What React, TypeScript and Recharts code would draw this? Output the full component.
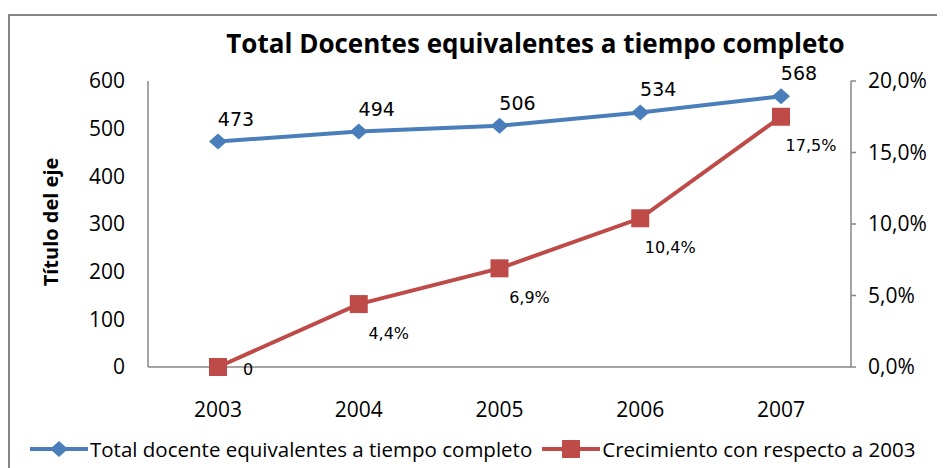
import { LineChart, Line, XAxis, YAxis, LabelList } from 'recharts'

const years = ['2003', '2004', '2005', '2006', '2007']
const totalDocentes = [473, 494, 506, 534, 568]
const crecimiento = [0, 0.044, 0.069, 0.104, 0.175]
const leftTicks = [0, 100, 200, 300, 400, 500, 600]
const rightTicks = [0, 0.05, 0.1, 0.15, 0.2]

const data = years.map((year, i) => ({ year, total: totalDocentes[i], crec: crecimiento[i] }))

const BLUE = '#4a7ebb'
const RED = '#be4b48'
const AXIS = '#868686'
const FONT = '"Open Sans", sans-serif'
const LABEL_FONT = '"DejaVu Sans", sans-serif'

const pct = (v: number) => (v * 100).toFixed(1).replace('.', ',') + '%'

const Diamond = (props: any) => {
  const { cx, cy, index } = props
  if (cx == null || cy == null) return null
  return (
    <polygon
      key={`d-${index}`}
      points={`${cx - 9},${cy} ${cx},${cy - 8} ${cx + 9},${cy} ${cx},${cy + 8}`}
      fill={BLUE}
    />
  )
}

const Square = (props: any) => {
  const { cx, cy, index } = props
  if (cx == null || cy == null) return null
  return <rect key={`s-${index}`} x={cx - 9} y={cy - 9} width={18} height={18} fill={RED} />
}

const blueLabel = (props: any) => {
  const { x, y, value, index } = props
  return (
    <text key={`bl-${index}`} x={x + 18} y={y - 23} textAnchor="middle" dominantBaseline="central"
      fontSize={19} fontFamily={LABEL_FONT} fill="#000">
      {value}
    </text>
  )
}

const redLabel = (props: any) => {
  const { x, y, value, index } = props
  const zero = value === 0
  return (
    <text key={`rl-${index}`} x={x + 30} y={zero ? y + 2 : y + 29} textAnchor="middle" dominantBaseline="central"
      fontSize={16} fontFamily={LABEL_FONT} fill="#000">
      {zero ? '0' : pct(value)}
    </text>
  )
}

const axisTitle = () => (
  <text x={42} y={214} transform="rotate(-90, 42, 214)" textAnchor="middle" dominantBaseline="central"
    fontSize={20} fontWeight="bold" fontFamily={FONT} fill="#000">
    Título del eje
  </text>
)

function LegendItem({ color, shape, text }: { color: string; shape: 'diamond' | 'square'; text: string }) {
  return (
    <div style={{ display: 'flex', alignItems: 'center', marginRight: 10 }}>
      <svg width={58} height={20} style={{ marginRight: 2 }}>
        <line x1={0} y1={10} x2={58} y2={10} stroke={color} strokeWidth={4} />
        {shape === 'diamond'
          ? <polygon points="20,10 29,2 38,10 29,18" fill={color} />
          : <rect x={20} y={1} width={18} height={18} fill={color} />}
      </svg>
      <span>{text}</span>
    </div>
  )
}

export default function App() {
  return (
    <div style={{ position: 'relative', width: 937, height: 460, overflow: 'hidden', background: '#fff' }}>
      <div style={{
        position: 'absolute', left: 0, top: 6, width: 1000, height: 500,
        borderLeft: `2px solid ${AXIS}`, borderTop: `2px solid ${AXIS}`, boxSizing: 'border-box',
      }} />
      <div style={{
        position: 'absolute', left: 0, width: 937, top: 17, textAlign: 'center',
        fontFamily: FONT, fontWeight: 'bold', fontSize: 26, color: '#000', paddingLeft: 118, boxSizing: 'border-box',
        whiteSpace: 'nowrap',
      }}>
        Total Docentes equivalentes a tiempo completo
      </div>
      <LineChart width={937} height={460} data={data} margin={{ top: 73, right: 0, bottom: 61, left: 0 }}
        style={{ position: 'absolute', left: 0, top: 0 }}>
        <XAxis dataKey="year" axisLine={{ stroke: AXIS, strokeWidth: 1.5 }} tickLine={false} tickSize={0}
          tickMargin={35} height={40} padding={{ left: 70, right: 70 }}
          tick={{ fontSize: 21, fontFamily: FONT, fill: '#000' }} />
        <YAxis yAxisId="left" domain={[0, 600]} ticks={leftTicks} width={140}
          axisLine={{ stroke: AXIS, strokeWidth: 1.5 }} tickLine={false} tickSize={0} tickMargin={23}
          tick={{ fontSize: 21, fontFamily: FONT, fill: '#000' }} label={axisTitle} />
        <YAxis yAxisId="right" orientation="right" domain={[0, 0.2]} ticks={rightTicks} width={94}
          tickFormatter={pct} axisLine={{ stroke: AXIS, strokeWidth: 1.5 }}
          tickLine={{ stroke: AXIS, strokeWidth: 1.5 }} tickSize={5} tickMargin={12}
          tick={{ fontSize: 21, fontFamily: FONT, fill: '#000' }} />
        <Line yAxisId="left" dataKey="total" stroke={BLUE} strokeWidth={4} dot={Diamond}
          activeDot={false} isAnimationActive={false}>
          <LabelList dataKey="total" content={blueLabel} />
        </Line>
        <Line yAxisId="right" dataKey="crec" stroke={RED} strokeWidth={4} dot={Square}
          activeDot={false} isAnimationActive={false}>
          <LabelList dataKey="crec" content={redLabel} />
        </Line>
      </LineChart>
      <div style={{
        position: 'absolute', left: 22, top: 427, display: 'flex', alignItems: 'center',
        fontFamily: FONT, fontSize: 20.5, color: '#000', whiteSpace: 'nowrap',
      }}>
        <LegendItem color={BLUE} shape="diamond" text="Total docente equivalentes a tiempo completo" />
        <LegendItem color={RED} shape="square" text="Crecimiento con respecto a 2003" />
      </div>
    </div>
  )
}
